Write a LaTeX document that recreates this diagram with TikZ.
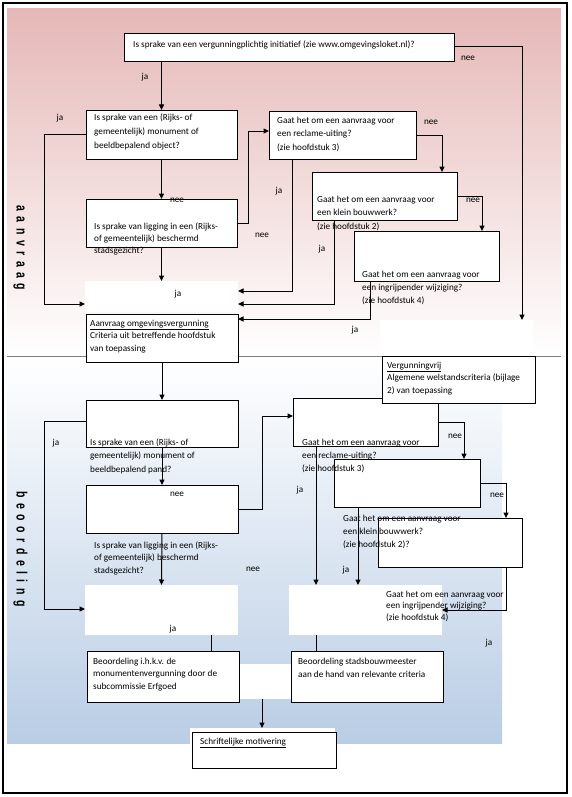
\documentclass[tikz,border=0pt]{standalone}
\usepackage{fontspec}
\setmainfont{Carlito}
\newfontfamily\lblfont{Liberation Sans}
\usetikzlibrary{arrows.meta}
\definecolor{pinkT}{RGB}{229,184,183}
\definecolor{blueB}{RGB}{185,205,229}
\newcommand\lgap{\hspace{7.9pt}}
\newcommand\firstl{\rule{0pt}{8pt}}
\newcommand\mkbox[6][box]{\node[#1, anchor=north west, minimum width=#5pt-#3pt, minimum height=#6pt-#4pt] (#2) at (#3,#4) {};}
\begin{document}
\begin{tikzpicture}[x=1pt,y=-1pt,
  box/.style={draw=black, line width=0.9pt, fill=white, inner sep=0pt, outer sep=0pt},
  wbox/.style={fill=white, inner sep=0pt, outer sep=0pt},
  arr/.style={line width=1pt, -{Triangle[length=5.5pt,width=5pt]}},
  ln/.style={line width=1pt},
  blk/.style={anchor=north west, yshift=5.8pt, inner sep=0pt, align=left, font=\fontsize{9.2}{#1}\selectfont},
  blk/.default=13,
  lbl/.style={anchor=base, yshift=-2.2pt, inner sep=0pt, font=\fontsize{9.2}{11}\selectfont},
  vlbl/.style={anchor=base, rotate=-90, xscale=0.7, inner sep=0pt, font=\lblfont\bfseries\fontsize{15}{17}\selectfont}
]
\useasboundingbox (0,0) rectangle (571,797);
% background
\draw[line width=1.2pt] (3,3) rectangle (567,793);
\shade[top color=pinkT, bottom color=white] (7,9) rectangle (561,355);
\shade[top color=white, bottom color=blueB] (7,357) rectangle (502,743);
\draw[gray, line width=0.9pt] (7,356) -- (561,356);

% white unbordered areas
\mkbox[wbox]{jabox}{85}{281}{238}{312}
\mkbox[wbox]{wvv}{380}{320}{533}{356}
\mkbox[wbox]{wL}{85}{585}{238}{635}
\mkbox[wbox]{wR}{289}{585}{442}{635}
\mkbox[wbox]{wmid}{232}{664}{292}{699}
\mkbox[wbox]{schrbg}{190}{728}{335}{745}

% boxes
\mkbox{top}{124}{33}{454}{61}
\mkbox{mon1}{86}{110}{237}{159}
\mkbox{recl1}{269}{111}{416}{159}
\mkbox{klein1}{312}{172}{457}{220}
\mkbox{lig1}{86}{199}{237}{247}
\mkbox{ingr1}{354}{231}{499}{281}
\mkbox{aanv}{86}{314}{238}{362}
\mkbox{mon2}{86}{400}{238}{447}
\mkbox{recl2}{293}{398}{438}{446}
\mkbox{vvrij}{382}{356}{535}{403}
\mkbox{bwA}{334}{459}{480}{507}
\mkbox{lig2}{86}{485}{238}{533}
\mkbox{klein2}{378}{518}{522}{567}
\mkbox{beo1}{87}{651}{239}{702}
\mkbox{beo2}{291}{651}{443}{702}
\mkbox{schr}{192}{732}{336}{768}

% connectors - aanvraag
\draw[arr] (mon1.north |- top.south) -- (mon1.north);
\draw[arr] (top.east) -| (522,0 |- wvv.north);
\draw[arr] (mon1.west) -| (44,304) -- (jabox.west |- 0,304);
\draw[arr] (mon1.south) -- (lig1.north);
\draw[arr] (lig1.east) -| (248,131) -- (recl1.west |- 0,131);
\draw[arr] (recl1.east) -| (442,0 |- klein1.north);
\draw[arr] (292,0 |- recl1.south) |- (jabox.east |- 0,291);
\draw[arr] (klein1.east) -| (482,0 |- ingr1.north);
\draw[arr] (334,0 |- klein1.south) |- (jabox.east |- 0,304);
\draw[arr] (370,0 |- ingr1.south) |- (aanv.east |- 0,319);
\draw[arr] (lig1.south) -- (jabox.north);
% connectors - beoordeling
\draw[arr] (aanv.south) -- (mon2.north);
\draw[arr] (mon2.west |- 0,421) -| (44,609) -- (wL.west |- 0,609);
\draw[arr] (mon2.south) -- (lig2.north);
\draw[arr] (lig2.east) -| (262,416) -- (recl2.west |- 0,416);
\draw[arr] (recl2.east) -| (464,0 |- bwA.north);
\draw[arr] (316,0 |- recl2.south) -- (316,0 |- wR.north);
\draw[arr] (bwA.east) -| (506,0 |- klein2.north);
\draw[arr] (358,0 |- bwA.south) -- (358,0 |- wR.north);
\draw[arr] (506,0 |- klein2.south) |- (wR.east |- 0,610);
\draw[arr] (lig2.south) -- (wL.north);
\draw[ln] (211,0 |- wL.south) -- (211,0 |- beo1.north);
\draw[ln] (316,0 |- wR.south) -- (316,0 |- beo2.north);
\draw[arr] (wmid.south) -- (wmid.south |- schrbg.north);

% texts
\node[blk] (t0) at (133,45) {\firstl Is sprake van een vergunningplichtig initiatief (zie www.omgevingsloket.nl)?};
\node[blk=14] (t1) at (94,118) {\firstl Is sprake van een (Rijks- of\\gemeentelijk) monument of\\beeldbepalend object?};
\node[blk=13.5] (t2) at (277,121) {\firstl Gaat het om een aanvraag voor\\een reclame-uiting?\\(zie hoofdstuk 3)};
\node[blk=13.5] (t3) at (317,200) {\firstl Gaat het om een aanvraag voor\\een klein bouwwerk?\\(zie hoofdstuk 2)};
\node[blk=12] (t4) at (94,227) {\firstl Is sprake van ligging in een (Rijks-\\of gemeentelijk) beschermd\\stadsgezicht?};
\node[blk=13] (t5) at (362,275) {\firstl Gaat het om een aanvraag voor\\een ingrijpender wijziging?\\(zie hoofdstuk 4)};
\node[blk=12.5] (t6) at (90,324) {\firstl\underline{Aanvraag omgevingsvergunning}\\Criteria uit betreffende hoofdstuk\\van toepassing};
\node[blk=12.5] (t7) at (387,366) {\firstl\underline{Vergunningvrij}\\Algemene welstandscriteria (bijlage\\2) van toepassing};
\node[blk=13.5] (t8) at (90,443) {\firstl Is sprake van een (Rijks- of\\gemeentelijk) monument of\\beeldbepalend pand?};
\node[blk=13] (t9) at (302,443) {\firstl Gaat het om een aanvraag voor\\een reclame-uiting?\\(zie hoofdstuk 3)};
\node[blk=13] (t10) at (343,519) {\firstl Gaat het om een aanvraag voor\\een klein bouwwerk?\\(zie hoofdstuk 2)?};
\node[blk=12.5] (t11) at (94,546) {\firstl Is sprake van ligging in een (Rijks-\\of gemeentelijk) beschermd\\stadsgezicht?};
\node[blk=11.5] (t12) at (386,595) {\firstl Gaat het om een aanvraag voor\\een ingrijpender wijziging?\\(zie hoofdstuk 4)};
\node[blk=12.5] (t13) at (93,662) {\firstl Beoordeling i.h.k.v. de\\monumentenvergunning door de\\subcommissie Erfgoed};
\node[blk=13] (t14) at (298,662) {\firstl Beoordeling stadsbouwmeester\\aan de hand van relevante criteria};
\node[blk] (t15) at (200,742) {\firstl\underline{Schriftelijke motivering}};

% labels
\node[lbl] (l1) at (145,77) {ja};
\node[lbl] (l2) at (468,58) {nee};
\node[lbl] (l3) at (60,118) {ja};
\node[lbl] (l4) at (431,122) {nee};
\node[lbl] (l5) at (279,191) {ja};
\node[lbl] (l6) at (177,200) {nee};
\node[lbl] (l7) at (473,200) {nee};
\node[lbl] (l8) at (262,235) {nee};
\node[lbl] (l9) at (322,249) {ja};
\node[lbl] (l10) at (178,294) {ja};
\node[lbl] (l11) at (355,330) {ja};
\node[lbl] (l12) at (56,443) {ja};
\node[lbl] (l13) at (455,436) {nee};
\node[lbl] (l14) at (177,494) {nee};
\node[lbl] (l15) at (300,490) {ja};
\node[lbl] (l16) at (497,495) {nee};
\node[lbl] (l17) at (253,569) {nee};
\node[lbl] (l18) at (346,570) {ja};
\node[lbl] (l19) at (173,629) {ja};
\node[lbl] (l20) at (489,643) {ja};

% vertical section labels
\node[vlbl] (secA) at (16.5,248) {a\lgap a\lgap n\lgap v\lgap r\lgap a\lgap a\lgap g};
\node[vlbl] (secB) at (16.5,549) {b\lgap e\lgap o\lgap o\lgap r\lgap d\lgap e\lgap l\lgap i\lgap n\lgap g};
\end{tikzpicture}
\end{document}
